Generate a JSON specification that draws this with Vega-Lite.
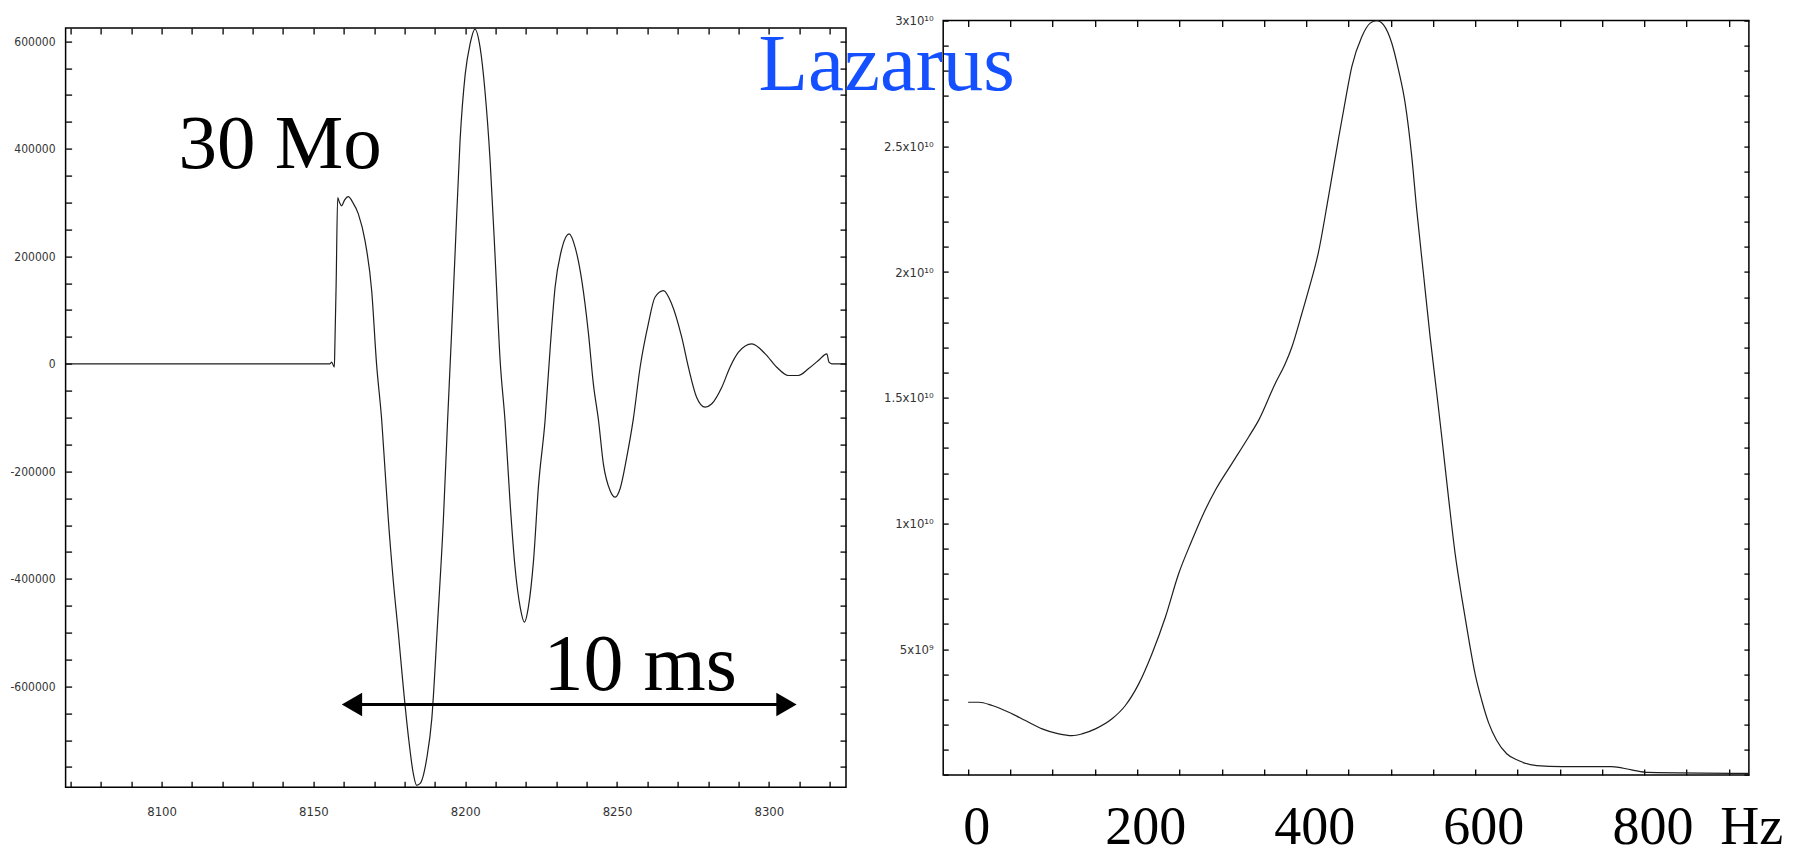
{
  "$schema": "https://vega.github.io/schema/vega-lite/v6.json",
  "background": "white",
  "padding": {"left": 9.6, "top": 13.6, "right": 0, "bottom": 0},
  "spacing": 96.6,
  "bounds": "flush",
  "config": {
    "axis": {"grid": false, "domain": false, "title": null, "labelOverlap": false, "labelFlush": false, "tickColor": "#000", "tickWidth": 1.3}
  },
  "hconcat": [
    {
      "width": 780.4,
      "height": 766.7,
      "view": {"stroke": null},
      "resolve": {"axis": {"x": "independent", "y": "independent"}},
      "layer": [
        {
          "data": {"values": [
            {"t": 8068.4, "a": 0}, {"t": 8155.5, "a": 0}, {"t": 8156.0, "a": 3000}, {"t": 8156.9, "a": -6000},
            {"t": 8157.1, "a": 40000}, {"t": 8157.5, "a": 150000}, {"t": 8158.0, "a": 309000}, {"t": 8158.6, "a": 300000},
            {"t": 8159.3, "a": 294000}, {"t": 8160.3, "a": 305000}, {"t": 8161.5, "a": 311000}, {"t": 8163.0, "a": 300000},
            {"t": 8164.8, "a": 279000}, {"t": 8167.0, "a": 229000}, {"t": 8169.2, "a": 136000}, {"t": 8170.8, "a": 0},
            {"t": 8172.5, "a": -105000}, {"t": 8173.6, "a": -198000}, {"t": 8174.7, "a": -291000}, {"t": 8176.3, "a": -403000},
            {"t": 8178.0, "a": -502000}, {"t": 8179.6, "a": -601000}, {"t": 8181.3, "a": -694000}, {"t": 8182.9, "a": -762000},
            {"t": 8184.0, "a": -784000}, {"t": 8185.1, "a": -781000}, {"t": 8187.3, "a": -735000}, {"t": 8189.0, "a": -660000},
            {"t": 8190.9, "a": -482000}, {"t": 8192.8, "a": -291000}, {"t": 8194.2, "a": -105000}, {"t": 8195.5, "a": 55800},
            {"t": 8196.7, "a": 210600}, {"t": 8198.3, "a": 415000}, {"t": 8200.0, "a": 539000}, {"t": 8201.6, "a": 595000},
            {"t": 8203.2, "a": 622700}, {"t": 8204.9, "a": 588500}, {"t": 8206.5, "a": 508000}, {"t": 8208.2, "a": 378000},
            {"t": 8209.8, "a": 204500}, {"t": 8211.5, "a": 6100}, {"t": 8213.1, "a": -105000}, {"t": 8214.8, "a": -260200},
            {"t": 8216.4, "a": -378000}, {"t": 8218.1, "a": -452400}, {"t": 8219.5, "a": -480300}, {"t": 8220.8, "a": -452400},
            {"t": 8222.5, "a": -365600}, {"t": 8224.1, "a": -229400}, {"t": 8226.3, "a": -105400}, {"t": 8228.0, "a": 30900},
            {"t": 8229.6, "a": 142400}, {"t": 8231.8, "a": 213700}, {"t": 8234.2, "a": 241600}, {"t": 8236.2, "a": 216700},
            {"t": 8238.4, "a": 154800}, {"t": 8240.6, "a": 55800}, {"t": 8242.2, "a": -37200}, {"t": 8243.9, "a": -105400},
            {"t": 8245.5, "a": -186000}, {"t": 8247.7, "a": -235500}, {"t": 8249.4, "a": -248000}, {"t": 8251.0, "a": -232300},
            {"t": 8253.2, "a": -173600}, {"t": 8255.4, "a": -101000}, {"t": 8257.6, "a": -6300}, {"t": 8260.3, "a": 74300},
            {"t": 8262.5, "a": 123800}, {"t": 8265.3, "a": 136200}, {"t": 8268.0, "a": 111500}, {"t": 8271.3, "a": 49500},
            {"t": 8273.5, "a": -6300}, {"t": 8276.2, "a": -62000}, {"t": 8279.0, "a": -80600}, {"t": 8281.2, "a": -74300},
            {"t": 8284.5, "a": -43500}, {"t": 8287.2, "a": -6300}, {"t": 8290.0, "a": 21600}, {"t": 8294.4, "a": 37200},
            {"t": 8298.8, "a": 18600}, {"t": 8302.6, "a": -6300}, {"t": 8306.4, "a": -21700}, {"t": 8309.7, "a": -21700},
            {"t": 8313.0, "a": -9300}, {"t": 8316.3, "a": 6100}, {"t": 8319.1, "a": 18600}, {"t": 8319.8, "a": 3000},
            {"t": 8320.7, "a": 0}, {"t": 8325.4, "a": 0}
          ]},
          "mark": {"type": "line", "color": "#1e1e1e", "strokeWidth": 1.2, "interpolate": "monotone"},
          "encoding": {
            "x": {"field": "t", "type": "quantitative",
              "scale": {"domain": [8068.4, 8325.4], "nice": false, "zero": false},
              "axis": {"orient": "bottom", "values": [8070,8080,8090,8100,8110,8120,8130,8140,8150,8160,8170,8180,8190,8200,8210,8220,8230,8240,8250,8260,8270,8280,8290,8300,8310,8320],
                "labelExpr": "datum.value % 50 === 0 ? ('' + datum.value) : ''",
                "tickSize": -6, "labelPadding": 34, "labelBaseline": "alphabetic",
                "labelFont": "DejaVu Sans Condensed, Liberation Sans Narrow, DejaVu Sans", "labelFontSize": 13, "labelColor": "#333"}},
            "y": {"field": "a", "type": "quantitative",
              "scale": {"domain": [-787700, 638470], "nice": false, "zero": false},
              "axis": {"orient": "left", "values": [-750000,-700000,-650000,-600000,-550000,-500000,-450000,-400000,-350000,-300000,-250000,-200000,-150000,-100000,-50000,0,50000,100000,150000,200000,250000,300000,350000,400000,450000,500000,550000,600000],
                "labelExpr": "datum.value % 200000 === 0 ? ('' + datum.value) : ''",
                "tickSize": -6, "labelPadding": 16.6,
                "labelFont": "DejaVu Sans Condensed, Liberation Sans Narrow, DejaVu Sans", "labelFontSize": 12, "labelColor": "#333"}}
          }
        },
        {
          "data": {"values": [{"x1": 8068.4, "x2": 8325.4, "y1": -787700, "y2": 624900}]},
          "mark": {"type": "rect", "fill": null, "fillOpacity": 0, "stroke": "#000", "strokeWidth": 1.5},
          "encoding": {
            "x": {"field": "x1", "type": "quantitative",
              "axis": {"orient": "top", "labels": false, "tickSize": -6, "offset": -7.3, "values": [8070,8080,8090,8100,8110,8120,8130,8140,8150,8160,8170,8180,8190,8200,8210,8220,8230,8240,8250,8260,8270,8280,8290,8300,8310,8320]}},
            "x2": {"field": "x2"},
            "y": {"field": "y1", "type": "quantitative",
              "axis": {"orient": "right", "labels": false, "tickSize": -6, "values": [-750000,-700000,-650000,-600000,-550000,-500000,-450000,-400000,-350000,-300000,-250000,-200000,-150000,-100000,-50000,0,50000,100000,150000,200000,250000,300000,350000,400000,450000,500000,550000,600000]}},
            "y2": {"field": "y2"}
          }
        },
        {
          "data": {"values": [{"x1": 8162.7, "x2": 8305.8, "y": -633800}]},
          "mark": {"type": "rule", "color": "#000", "strokeWidth": 3},
          "encoding": {
            "x": {"field": "x1", "type": "quantitative", "axis": null},
            "x2": {"field": "x2"},
            "y": {"field": "y", "type": "quantitative", "axis": null}
          }
        },
        {
          "data": {"values": [{"x": 8162.7, "y": -633800, "dir": "left"}, {"x": 8305.8, "y": -633800, "dir": "right"}]},
          "mark": {"type": "point", "filled": true, "size": 550, "color": "#000", "opacity": 1},
          "encoding": {
            "x": {"field": "x", "type": "quantitative", "axis": null},
            "y": {"field": "y", "type": "quantitative", "axis": null},
            "shape": {"field": "dir", "type": "nominal", "scale": {"domain": ["left", "right"], "range": ["triangle-left", "triangle-right"]}, "legend": null}
          }
        },
        {
          "data": {"values": [{"label": "30 Mo", "x": 8105.6, "y": 364900}]},
          "mark": {"type": "text", "align": "left", "baseline": "alphabetic", "font": "Liberation Serif", "fontSize": 77, "color": "#000"},
          "encoding": {
            "x": {"field": "x", "type": "quantitative", "axis": null},
            "y": {"field": "y", "type": "quantitative", "axis": null},
            "text": {"field": "label"}
          }
        },
        {
          "data": {"values": [{"label": "10 ms", "x": 8225.8, "y": -607200}]},
          "mark": {"type": "text", "align": "left", "baseline": "alphabetic", "font": "Liberation Serif", "fontSize": 80, "color": "#000"},
          "encoding": {
            "x": {"field": "x", "type": "quantitative", "axis": null},
            "y": {"field": "y", "type": "quantitative", "axis": null},
            "text": {"field": "label"}
          }
        },
        {
          "data": {"values": [{"label": "Lazarus", "x": 8296.6, "y": 509300}]},
          "mark": {"type": "text", "align": "left", "baseline": "alphabetic", "font": "Liberation Serif", "fontSize": 81, "color": "#1450ff"},
          "encoding": {
            "x": {"field": "x", "type": "quantitative", "axis": null},
            "y": {"field": "y", "type": "quantitative", "axis": null},
            "text": {"field": "label"}
          }
        }
      ]
    },
    {
      "width": 805.7,
      "height": 754.3,
      "view": {"stroke": "#000", "strokeWidth": 1.5},
      "resolve": {"axis": {"x": "independent", "y": "independent"}},
      "layer": [
        {
          "data": {"values": [
            {"f": 0, "p": 2890000000}, {"f": 12.6, "p": 2890000000}, {"f": 28.4, "p": 2760000000}, {"f": 48.1, "p": 2490000000},
            {"f": 67.8, "p": 2160000000}, {"f": 87.5, "p": 1830000000}, {"f": 107.2, "p": 1630000000}, {"f": 122.9, "p": 1560000000},
            {"f": 134.7, "p": 1630000000}, {"f": 150.6, "p": 1830000000}, {"f": 170.2, "p": 2230000000}, {"f": 186.0, "p": 2760000000},
            {"f": 201.8, "p": 3620000000}, {"f": 217.5, "p": 4820000000}, {"f": 233.3, "p": 6270000000}, {"f": 249.0, "p": 8000000000},
            {"f": 264.8, "p": 9330000000}, {"f": 276.6, "p": 10260000000}, {"f": 292.4, "p": 11320000000}, {"f": 312.0, "p": 12380000000},
            {"f": 331.8, "p": 13440000000}, {"f": 343.6, "p": 14100000000}, {"f": 363.3, "p": 15570000000}, {"f": 375.2, "p": 16360000000},
            {"f": 383.0, "p": 17020000000}, {"f": 394.8, "p": 18350000000}, {"f": 402.7, "p": 19280000000}, {"f": 414.5, "p": 20800000000},
            {"f": 426.3, "p": 23000000000}, {"f": 438.1, "p": 25300000000}, {"f": 446.1, "p": 26800000000}, {"f": 453.9, "p": 28170000000},
            {"f": 465.7, "p": 29360000000}, {"f": 475.6, "p": 29900000000}, {"f": 483.4, "p": 30000000000}, {"f": 491.4, "p": 29830000000},
            {"f": 501.2, "p": 29100000000}, {"f": 509.1, "p": 28040000000}, {"f": 517.0, "p": 26710000000}, {"f": 524.8, "p": 24590000000},
            {"f": 530.7, "p": 22460000000}, {"f": 538.6, "p": 19940000000}, {"f": 546.5, "p": 17420000000}, {"f": 554.4, "p": 15170000000},
            {"f": 560.3, "p": 13440000000}, {"f": 568.2, "p": 11050000000}, {"f": 576.1, "p": 8800000000}, {"f": 583.9, "p": 7070000000},
            {"f": 591.8, "p": 5480000000}, {"f": 599.7, "p": 4020000000}, {"f": 607.6, "p": 2960000000}, {"f": 615.5, "p": 2090000000},
            {"f": 625.3, "p": 1370000000}, {"f": 637.1, "p": 840000000}, {"f": 650.9, "p": 570000000}, {"f": 672.6, "p": 370000000},
            {"f": 702.1, "p": 330000000}, {"f": 761.2, "p": 330000000}, {"f": 784.8, "p": 200000000}, {"f": 804.6, "p": 100000000},
            {"f": 923.6, "p": 60000000}
          ]},
          "mark": {"type": "line", "color": "#1e1e1e", "strokeWidth": 1.2, "interpolate": "monotone"},
          "encoding": {
            "x": {"field": "f", "type": "quantitative",
              "scale": {"domain": [-29.5, 923.6], "nice": false, "zero": false},
              "axis": {"orient": "bottom", "values": [0,50,100,150,200,250,300,350,400,450,500,550,600,650,700,750,800,850,900],
                "labelExpr": "(datum.value % 200 === 0 && datum.value <= 800) ? ('' + datum.value) : ''",
                "tickSize": -6, "labelPadding": 75, "labelBaseline": "alphabetic", "labelOffset": 8,
                "labelFont": "Liberation Serif", "labelFontSize": 54, "labelColor": "#000"}},
            "y": {"field": "p", "type": "quantitative",
              "scale": {"domain": [0, 30000000000], "nice": false, "zero": false},
              "axis": {"orient": "left", "values": [0,1000000000,2000000000,3000000000,4000000000,5000000000,6000000000,7000000000,8000000000,9000000000,10000000000,11000000000,12000000000,13000000000,14000000000,15000000000,16000000000,17000000000,18000000000,19000000000,20000000000,21000000000,22000000000,23000000000,24000000000,25000000000,26000000000,27000000000,28000000000,29000000000,30000000000],
                "labelExpr": "(datum.value === 0 || datum.value % 5000000000 !== 0) ? '' : (datum.value >= 10000000000 ? ((datum.value / 10000000000) + 'x10¹⁰') : ((datum.value / 1000000000) + 'x10⁹'))",
                "tickSize": -5, "labelPadding": 15,
                "labelFont": "DejaVu Sans Condensed, Liberation Sans Narrow, DejaVu Sans", "labelFontSize": 13, "labelColor": "#333"}}
          }
        },
        {
          "data": {"values": [{"label": "Hz", "f": 889.7, "p": -2735000000}]},
          "mark": {"type": "text", "align": "left", "baseline": "alphabetic", "font": "Liberation Serif", "fontSize": 54, "color": "#000"},
          "encoding": {
            "x": {"field": "f", "type": "quantitative",
              "axis": {"orient": "top", "labels": false, "tickSize": -6, "values": [0,50,100,150,200,250,300,350,400,450,500,550,600,650,700,750,800,850,900]}},
            "y": {"field": "p", "type": "quantitative",
              "axis": {"orient": "right", "labels": false, "tickSize": -5, "values": [0,1000000000,2000000000,3000000000,4000000000,5000000000,6000000000,7000000000,8000000000,9000000000,10000000000,11000000000,12000000000,13000000000,14000000000,15000000000,16000000000,17000000000,18000000000,19000000000,20000000000,21000000000,22000000000,23000000000,24000000000,25000000000,26000000000,27000000000,28000000000,29000000000,30000000000]}},
            "text": {"field": "label"}
          }
        }
      ]
    }
  ]
}
